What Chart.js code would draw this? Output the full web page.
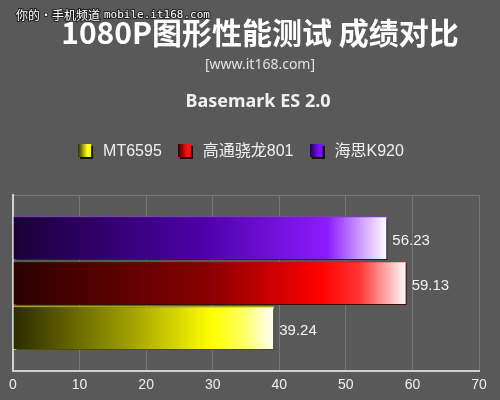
<!DOCTYPE html>
<html>
<head>
<meta charset="utf-8">
<script src="https://cdn.jsdelivr.net/npm/chart.js@4/dist/chart.umd.min.js"></script>
<style>
  html, body { margin: 0; padding: 0; background: #595959; }
  #wrap { width: 500px; height: 400px; }
</style>
</head>
<body>
<div id="wrap"><canvas id="myChart" width="500" height="400"></canvas></div>
<script>
// data, top bar first (legend is shown reversed)
var categories = [''];
var seriesNames = ['海思K920', '高通骁龙801', 'MT6595'];
var seriesValues = [56.23, 59.13, 39.24];
var xTicks = { min: 0, max: 70, step: 10 };
var subtitleText = '[www.it168.com]';

// gradient stops per series: dark on the left, full colour, white tip
var gradientStops = [
  [[0, '#180036'], [0.5, '#4c00a8'], [0.84, '#8c1cff'], [0.92, '#c890ff'], [1, '#ffffff']],
  [[0, '#2a0000'], [0.5, '#8a0000'], [0.78, '#ff0000'], [0.88, '#ff3434'], [1, '#ffffff']],
  [[0, '#2a2a00'], [0.45, '#a0a000'], [0.76, '#ffff00'], [0.88, '#ffff60'], [1, '#ffffff']]
];
var edgeColors = ['#8a3ae0', '#d02020', '#e0e000'];
var iconColors = [['#1a0040', '#7a10ff'], ['#300000', '#ff1010'], ['#303000', '#ffff20']];

function barGradient(ctx, i) {
  var chart = ctx.chart;
  if (!chart.chartArea) return iconColors[i][1];
  var x = chart.scales.x;
  var x0 = x.getPixelForValue(0);
  var x1 = x.getPixelForValue(seriesValues[i]);
  var g = chart.ctx.createLinearGradient(x0, 0, x1, 0);
  gradientStops[i].forEach(function (s) { g.addColorStop(s[0], s[1]); });
  return g;
}

function legendIcon(i) {
  var c = document.createElement('canvas');
  c.width = 15; c.height = 15;
  var g2 = c.getContext('2d');
  g2.fillStyle = '#111';
  g2.fillRect(2, 2, 13, 13);
  var g = g2.createLinearGradient(0, 0, 13, 0);
  g.addColorStop(0, iconColors[i][0]);
  g.addColorStop(0.7, iconColors[i][1]);
  g.addColorStop(1, iconColors[i][1]);
  g2.fillStyle = g;
  g2.fillRect(0, 0, 13, 13);
  return c;
}
var legendIcons = seriesNames.map(function (n, i) { return legendIcon(i); });

var datasets = seriesNames.map(function (name, i) {
  return {
    label: name,
    data: [seriesValues[i]],
    backgroundColor: function (ctx) { return barGradient(ctx, i); },
    borderColor: edgeColors[i],
    borderWidth: 1
  };
});

// legend tweaks: extra room below it, title drawn a bit right of the items
var legendTweak = {
  id: 'legendTweak',
  afterInit: function (chart) {
    var legend = chart.legend;
    var fit = legend.fit;
    legend.fit = function () {
      fit.call(legend);
      this.height += 26;
    };
    ['drawTitle', '_drawTitle'].forEach(function (name) {
      var orig = legend[name];
      if (typeof orig !== 'function') return;
      legend[name] = function () {
        this.ctx.save();
        this.ctx.translate(18, 0);
        orig.apply(this, arguments);
        this.ctx.restore();
      };
    });
  },
  afterLayout: function (chart) {
    chart.boxes.forEach(function (b) {
      if (b === chart.titleBlock || (b.options && b.options.text === subtitleText)) {
        b.left += 14;
        b.right += 14;
      }
    });
    chart.legend.left -= 6;
    chart.legend.right -= 6;
  }
};

var barShadow = {
  id: 'barShadow',
  beforeDatasetsDraw: function (chart) {
    var c = chart.ctx;
    c.save();
    c.shadowColor = 'rgba(0,0,0,0.75)';
    c.shadowOffsetX = 2;
    c.shadowOffsetY = 2;
    c.shadowBlur = 2;
  },
  afterDatasetsDraw: function (chart) {
    chart.ctx.restore();
  }
};

var valueLabels = {
  id: 'valueLabels',
  afterDatasetsDraw: function (chart) {
    var c = chart.ctx;
    c.save();
    c.fillStyle = '#f2f2f2';
    c.font = '15px "Liberation Sans", Arial, sans-serif';
    c.textBaseline = 'middle';
    chart.data.datasets.forEach(function (ds, i) {
      var el = chart.getDatasetMeta(i).data[0];
      c.fillText(ds.data[0].toFixed(2), el.x + 5, el.y + 3);
    });
    c.restore();
  }
};

var cornerMark = {
  id: 'cornerMark',
  afterDraw: function (chart) {
    var c = chart.ctx;
    c.save();
    c.font = '12px "Noto Sans CJK SC", sans-serif';
    c.textBaseline = 'middle';
    c.lineWidth = 2;
    c.strokeStyle = '#222';
    c.fillStyle = '#ffffff';
    c.strokeText('你的・手机频道', 16, 15);
    c.fillText('你的・手机频道', 16, 15);
    c.font = '11px "DejaVu Sans Mono", monospace';
    c.strokeText('mobile.it168.com', 104, 15);
    c.fillText('mobile.it168.com', 104, 15);
    c.restore();
  }
};

new Chart(document.getElementById('myChart'), {
  type: 'bar',
  data: { labels: categories, datasets: datasets },
  plugins: [legendTweak, barShadow, valueLabels, cornerMark],
  options: {
    indexAxis: 'y',
    responsive: false,
    animation: false,
    categoryPercentage: 0.77,
    barPercentage: 0.97,
    layout: { padding: { left: 13, right: 21, bottom: 0 } },
    scales: {
      x: {
        min: xTicks.min,
        max: xTicks.max,
        ticks: {
          stepSize: xTicks.step,
          color: '#f0f0f0',
          padding: 9,
          font: { family: '"Liberation Sans", Arial, sans-serif', size: 14, lineHeight: 0.8 }
        },
        grid: { color: '#777777', drawTicks: false },
        border: { color: '#d0d0d0', width: 2 }
      },
      y: {
        ticks: { display: false },
        grid: { color: '#777777', drawTicks: false },
        border: { color: '#d0d0d0', width: 2 }
      }
    },
    plugins: {
      title: {
        display: true,
        text: '1080P图形性能测试 成绩对比',
        color: '#ffffff',
        font: { family: '"Noto Sans CJK SC", sans-serif', size: 30, weight: 'bold' },
        padding: { top: 15, bottom: 3 }
      },
      subtitle: {
        display: true,
        text: subtitleText,
        color: '#e2e2e2',
        font: { family: '"Noto Sans", sans-serif', size: 14 },
        padding: { top: 3, bottom: 9 }
      },
      legend: {
        display: true,
        position: 'top',
        reverse: true,
        title: {
          display: true,
          text: 'Basemark ES 2.0',
          color: '#f0f0f0',
          font: { family: '"Noto Sans", sans-serif', size: 18, weight: 'bold' },
          padding: { top: 10, bottom: 15 }
        },
        labels: {
          color: '#f0f0f0',
          font: { family: '"Liberation Sans", "Noto Sans CJK SC", sans-serif', size: 16 },
          usePointStyle: true,
          pointStyleWidth: 19,
          boxHeight: 13,
          padding: 14,
          generateLabels: function (chart) {
            return Chart.defaults.plugins.legend.labels.generateLabels(chart).map(function (item) {
              item.pointStyle = legendIcons[item.datasetIndex];
              return item;
            });
          }
        }
      },
      tooltip: { enabled: false }
    }
  }
});
</script>
</body>
</html>
